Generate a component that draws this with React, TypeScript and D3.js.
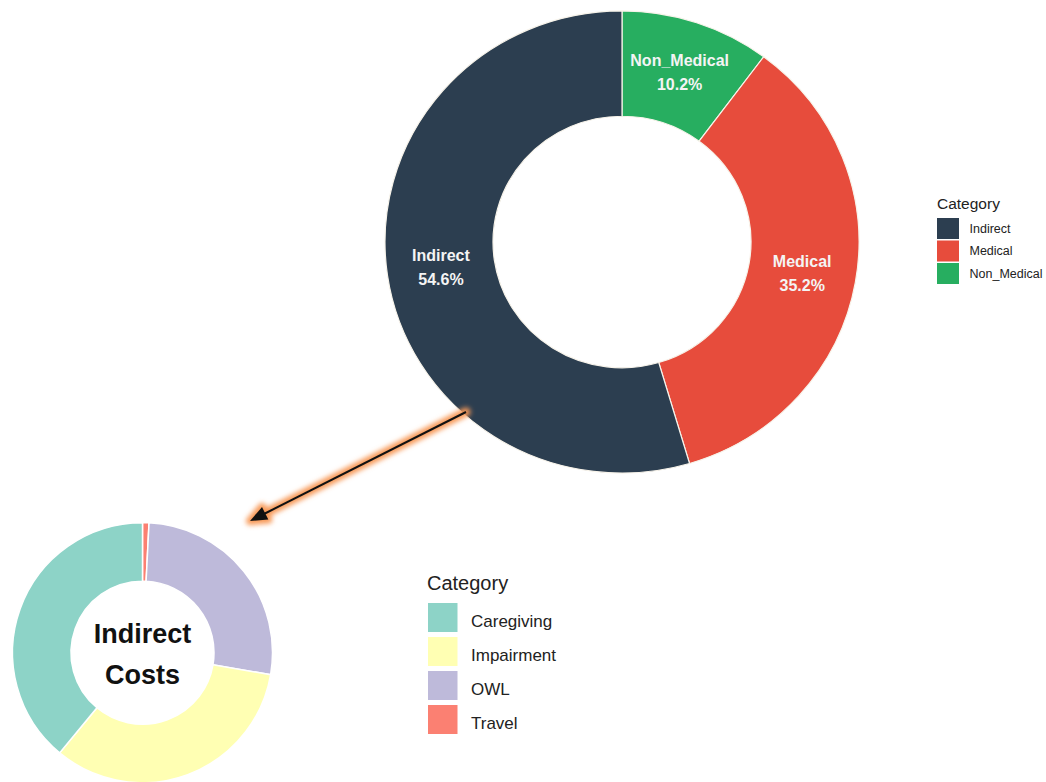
import React from "react";
import * as d3 from "d3";

// ---- Data ----
const mainCategories = ["Non_Medical", "Medical", "Indirect"];
const mainValues = [10.2, 35.2, 54.6];
const mainColors = ["#27ae60", "#e74c3c", "#2c3e50"];
const mainLegendOrder = ["Indirect", "Medical", "Non_Medical"];

const subCategories = ["Travel", "OWL", "Impairment", "Caregiving"];
const subValues = [0.8, 26.9, 33.3, 39.0];
const subColors = ["#fb8072", "#bebada", "#ffffb3", "#8dd3c7"];
const subLegendOrder = ["Caregiving", "Impairment", "OWL", "Travel"];

const legendTitle = "Category";
const centerLines = ["Indirect", "Costs"];

const FONT = "'Liberation Sans', Arial, Helvetica, sans-serif";

// ---- Layout ----
const W = 1046;
const H = 782;
const main = { cx: 622, cy: 242, inner: 129, outer: 237, sy: 0.975 };
const sub = { cx: 142.5, cy: 652.7, inner: 71.5, outer: 130 };
const arrow = { x1: 466, y1: 412, x2: 250, y2: 521, head: 17, half: 7 };

export default function App() {
  const mainColor = d3.scaleOrdinal<string, string>().domain(mainCategories).range(mainColors);
  const subColor = d3.scaleOrdinal<string, string>().domain(subCategories).range(subColors);

  const pie = d3.pie<number>().sort(null).value((d) => d);
  const mainArcs = pie(mainValues);
  const subArcs = pie(subValues);

  const mainArc = d3.arc<d3.PieArcDatum<number>>().innerRadius(main.inner).outerRadius(main.outer);
  const mid = (main.inner + main.outer) / 2;
  const labelArc = d3.arc<d3.PieArcDatum<number>>().innerRadius(mid).outerRadius(mid);
  const subArc = d3.arc<d3.PieArcDatum<number>>().innerRadius(sub.inner).outerRadius(sub.outer);

  // arrow head geometry
  const dx = arrow.x2 - arrow.x1;
  const dy = arrow.y2 - arrow.y1;
  const len = Math.hypot(dx, dy);
  const ux = dx / len;
  const uy = dy / len;
  const bx = arrow.x2 - ux * arrow.head;
  const by = arrow.y2 - uy * arrow.head;
  const headPts = [
    [arrow.x2, arrow.y2],
    [bx - uy * arrow.half, by + ux * arrow.half],
    [bx + uy * arrow.half, by - ux * arrow.half],
  ]
    .map((p) => p.join(","))
    .join(" ");

  return (
    <svg
      width={W}
      height={H}
      viewBox={`0 0 ${W} ${H}`}
      style={{ position: "absolute", left: 0, top: 0, background: "#ffffff" }}
      fontFamily={FONT}
    >
      <defs>
        <filter id="glow" x="-20%" y="-20%" width="140%" height="140%">
          <feGaussianBlur stdDeviation="2.5" />
        </filter>
      </defs>
      <rect x={0} y={0} width={W} height={H} fill="#ffffff" />

      {/* Main donut */}
      <g transform={`translate(${main.cx},${main.cy}) scale(1,${main.sy})`}>
        {mainArcs.map((a, i) => (
          <path
            key={mainCategories[i]}
            d={mainArc(a) || ""}
            fill={mainColor(mainCategories[i])}
            stroke="#f7f3ea"
            strokeWidth={1.2}
          />
        ))}
      </g>
      <g transform={`translate(${main.cx},${main.cy})`}>
        {mainArcs.map((a, i) => {
          const [lx, ly0] = labelArc.centroid(a);
          const ly = ly0 * main.sy;
          return (
            <g key={"lab" + i} fill="#f4f4f4" fontWeight="bold" fontSize={16} textAnchor="middle">
              <text x={lx} y={ly - 12} dominantBaseline="central">
                {mainCategories[i]}
              </text>
              <text x={lx} y={ly + 12} dominantBaseline="central">
                {mainValues[i].toFixed(1) + "%"}
              </text>
            </g>
          );
        })}
      </g>

      {/* Main legend */}
      <g transform="translate(937,0)">
        <text x={0} y={203} fontSize={15.5} fill="#222" dominantBaseline="central">
          {legendTitle}
        </text>
        {mainLegendOrder.map((c, i) => (
          <g key={c} transform={`translate(0,${218 + i * 22.5})`}>
            <rect x={0} y={0} width={22} height={21} fill={mainColor(c)} />
            <text x={32.5} y={10.5} fontSize={12.5} fill="#222" dominantBaseline="central">
              {c}
            </text>
          </g>
        ))}
      </g>

      {/* Sub donut */}
      <g transform={`translate(${sub.cx},${sub.cy})`}>
        {subArcs.map((a, i) => (
          <path
            key={subCategories[i]}
            d={subArc(a) || ""}
            fill={subColor(subCategories[i])}
            stroke="#ffffff"
            strokeWidth={1.5}
          />
        ))}
        <text x={0} y={-19} fontSize={27} fontWeight="bold" fill="#111" textAnchor="middle" dominantBaseline="central">
          {centerLines[0]}
        </text>
        <text x={0} y={22} fontSize={27} fontWeight="bold" fill="#111" textAnchor="middle" dominantBaseline="central">
          {centerLines[1]}
        </text>
      </g>

      {/* Sub legend */}
      <g transform="translate(428,0)">
        <text x={-1} y={582.5} fontSize={20} fill="#222" dominantBaseline="central">
          {legendTitle}
        </text>
        {subLegendOrder.map((c, i) => (
          <g key={c} transform={`translate(0,${603 + i * 34})`}>
            <rect x={0} y={0} width={29.5} height={29} fill={subColor(c)} />
            <text x={43} y={18} fontSize={17} fill="#222" dominantBaseline="central">
              {c}
            </text>
          </g>
        ))}
      </g>

      {/* Arrow with glow */}
      <g filter="url(#glow)">
        <line x1={arrow.x1} y1={arrow.y1} x2={bx} y2={by} stroke="#f89a58" strokeWidth={9} strokeLinecap="round" />
        <polygon points={headPts} fill="#f89a58" stroke="#f89a58" strokeWidth={8} strokeLinejoin="round" />
      </g>
      <line x1={arrow.x1} y1={arrow.y1} x2={bx + ux * 2} y2={by + uy * 2} stroke="#111" strokeWidth={2} />
      <polygon points={headPts} fill="#111" />
    </svg>
  );
}
